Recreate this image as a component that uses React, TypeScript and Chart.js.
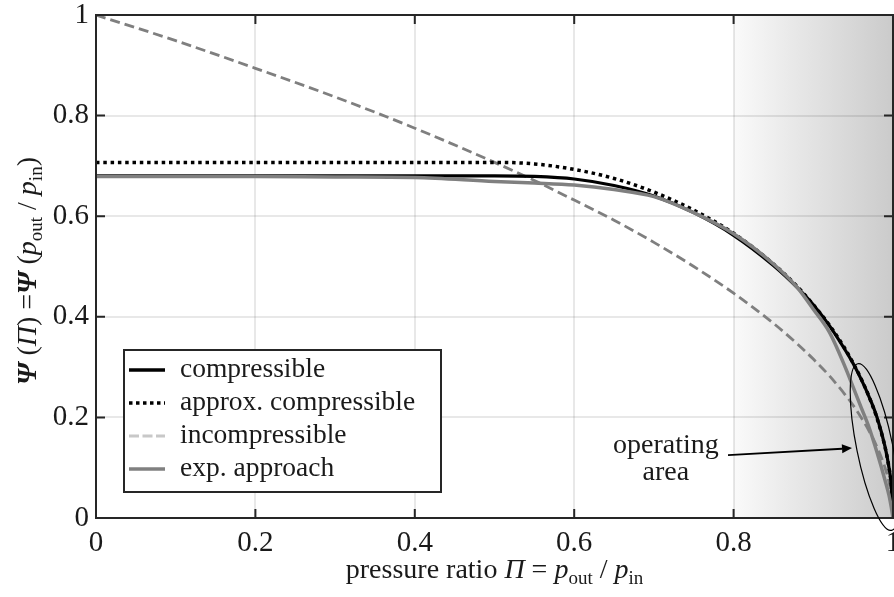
import { useEffect, useRef } from "react";
import { Chart, registerables } from "chart.js";

Chart.register(...registerables);

// ---------- data ----------
const pressureRatio = [0, 0.1, 0.2, 0.3, 0.4, 0.5, 0.55, 0.6, 0.65, 0.7, 0.75, 0.8, 0.85, 0.88, 0.9, 0.92, 0.94, 0.95, 0.96, 0.97, 0.98, 0.99, 0.995, 0.998, 1];
const compressible = [0.68, 0.68, 0.68, 0.68, 0.68, 0.68, 0.679, 0.674, 0.661, 0.64, 0.607, 0.562, 0.502, 0.458, 0.424, 0.383, 0.334, 0.307, 0.276, 0.241, 0.2, 0.142, 0.1, 0.063, 0];
const approxCompressible = [0.707, 0.707, 0.707, 0.707, 0.707, 0.707, 0.704, 0.693, 0.675, 0.648, 0.612, 0.566, 0.505, 0.46, 0.424, 0.384, 0.336, 0.308, 0.277, 0.241, 0.198, 0.141, 0.1, 0.063, 0];
const incompressible = [1, 0.949, 0.894, 0.837, 0.775, 0.707, 0.671, 0.632, 0.592, 0.548, 0.5, 0.447, 0.387, 0.346, 0.316, 0.283, 0.245, 0.224, 0.2, 0.173, 0.141, 0.1, 0.071, 0.045, 0];
const expApproach = [0.679, 0.679, 0.679, 0.678, 0.677, 0.669, 0.666, 0.662, 0.653, 0.639, 0.607, 0.565, 0.505, 0.458, 0.415, 0.37, 0.3, 0.26, 0.22, 0.18, 0.13, 0.075, 0.045, 0.02, 0];

const tickValues = [0, 0.2, 0.4, 0.6, 0.8, 1];
const legendLabels = ["compressible", "approx. compressible", "incompressible", "exp. approach"];
const shadeStart = 0.8;
const shadeEnd = 1;
// annotation (data units)
const ellipseCenter = { x: 0.977, y: 0.141 };
const arrowFrom = { x: 0.793, y: 0.125 };
const arrowTo = { x: 0.9486, y: 0.139 };
const annotationText = ["operating", "area"];
const annotationTextPos = { x: 0.715, y1: 0.129, y2: 0.0755 };

const FONT = "'Liberation Serif', 'Times New Roman', serif";
const TEXT = "#1a1a1a";
const FRAME = "#262626";

const mk = (ys: number[]) => pressureRatio.map((x, i) => ({ x, y: ys[i] }));

type Part = { t: string; style?: string; size?: number; dy?: number };

function richWidth(ctx: CanvasRenderingContext2D, parts: Part[]) {
  let w = 0;
  for (const p of parts) {
    ctx.font = `${p.style ?? ""} ${p.size ?? 28}px ${FONT}`;
    w += ctx.measureText(p.t).width;
  }
  return w;
}
function drawRich(ctx: CanvasRenderingContext2D, parts: Part[], cx: number, y: number) {
  let x = cx - richWidth(ctx, parts) / 2;
  ctx.textAlign = "left";
  ctx.textBaseline = "alphabetic";
  ctx.fillStyle = TEXT;
  for (const p of parts) {
    ctx.font = `${p.style ?? ""} ${p.size ?? 28}px ${FONT}`;
    ctx.fillText(p.t, x, y + (p.dy ?? 0));
    x += ctx.measureText(p.t).width;
  }
}

const xTitle: Part[] = [
  { t: "pressure ratio " },
  { t: "Π", style: "italic" },
  { t: " = " },
  { t: "p", style: "italic" },
  { t: "out", size: 19, dy: 6 },
  { t: " / " },
  { t: "p", style: "italic" },
  { t: "in", size: 19, dy: 6 },
];
const yTitle: Part[] = [
  { t: "Ψ", style: "italic bold" },
  { t: " (" },
  { t: "Π", style: "italic" },
  { t: ") " },
  { t: "=" },
  { t: "Ψ", style: "italic bold" },
  { t: " (" },
  { t: "p", style: "italic" },
  { t: "out", size: 19, dy: 6 },
  { t: " / " },
  { t: "p", style: "italic" },
  { t: "in", size: 19, dy: 6 },
  { t: ")" },
];

const decorPlugin = {
  id: "decor",
  beforeDraw(chart: any) {
    const { ctx, chartArea: a, scales } = chart;
    const x0 = scales.x.getPixelForValue(shadeStart);
    const x1 = scales.x.getPixelForValue(shadeEnd);
    const g = ctx.createLinearGradient(x0, 0, x1, 0);
    g.addColorStop(0, "#fafafa");
    g.addColorStop(1, "#cbcbcb");
    ctx.save();
    ctx.fillStyle = g;
    ctx.fillRect(x0, a.top, x1 - x0, a.bottom - a.top);
    ctx.restore();
  },
  afterDraw(chart: any) {
    const { ctx, chartArea: a, scales } = chart;
    const sx = scales.x, sy = scales.y;
    ctx.save();
    // frame
    ctx.strokeStyle = FRAME;
    ctx.lineWidth = 2;
    ctx.strokeRect(a.left, a.top, a.right - a.left, a.bottom - a.top);
    // inward ticks
    const tl = 9;
    ctx.beginPath();
    for (const v of tickValues) {
      const px = sx.getPixelForValue(v);
      ctx.moveTo(px, a.bottom); ctx.lineTo(px, a.bottom - tl);
      ctx.moveTo(px, a.top); ctx.lineTo(px, a.top + tl);
      const py = sy.getPixelForValue(v);
      ctx.moveTo(a.left, py); ctx.lineTo(a.left + tl, py);
      ctx.moveTo(a.right, py); ctx.lineTo(a.right - tl, py);
    }
    ctx.stroke();

    // annotation: ellipse
    ctx.beginPath();
    ctx.lineWidth = 1.2;
    ctx.strokeStyle = "#000";
    ctx.ellipse(sx.getPixelForValue(ellipseCenter.x), sy.getPixelForValue(ellipseCenter.y), 18, 85, -0.2, 0, Math.PI * 2);
    ctx.stroke();

    // arrow
    const ax0 = sx.getPixelForValue(arrowFrom.x), ay0 = sy.getPixelForValue(arrowFrom.y);
    const ax1 = sx.getPixelForValue(arrowTo.x), ay1 = sy.getPixelForValue(arrowTo.y);
    const ang = Math.atan2(ay1 - ay0, ax1 - ax0);
    const hl = 10, hw = 4.5;
    ctx.strokeStyle = "#000";
    ctx.fillStyle = "#000";
    ctx.lineWidth = 2;
    ctx.beginPath();
    ctx.moveTo(ax0, ay0);
    ctx.lineTo(ax1 - hl * Math.cos(ang), ay1 - hl * Math.sin(ang));
    ctx.stroke();
    ctx.beginPath();
    ctx.moveTo(ax1, ay1);
    ctx.lineTo(ax1 - hl * Math.cos(ang) + hw * Math.sin(ang), ay1 - hl * Math.sin(ang) - hw * Math.cos(ang));
    ctx.lineTo(ax1 - hl * Math.cos(ang) - hw * Math.sin(ang), ay1 - hl * Math.sin(ang) + hw * Math.cos(ang));
    ctx.closePath();
    ctx.fill();
    // annotation text
    ctx.font = `28px ${FONT}`;
    ctx.fillStyle = TEXT;
    ctx.textAlign = "center";
    ctx.textBaseline = "alphabetic";
    const tx = sx.getPixelForValue(annotationTextPos.x);
    ctx.fillText(annotationText[0], tx, sy.getPixelForValue(annotationTextPos.y1));
    ctx.fillText(annotationText[1], tx, sy.getPixelForValue(annotationTextPos.y2));

    // legend
    const lx = 124, ly = 350, lw = 317, lh = 142;
    ctx.fillStyle = "#fff";
    ctx.fillRect(lx, ly, lw, lh);
    ctx.strokeStyle = FRAME;
    ctx.lineWidth = 2;
    ctx.strokeRect(lx, ly, lw, lh);
    const legendStyles = [
      { color: "#000", width: 3.5, dash: [] as number[] },
      { color: "#000", width: 3.5, dash: [3.5, 3.5] },
      { color: "#c8c8c8", width: 3, dash: [10, 3.5] },
      { color: "#808080", width: 3.5, dash: [] as number[] },
    ];
    legendLabels.forEach((lab, i) => {
      const base = 377 + i * 33;
      const st = legendStyles[i];
      ctx.beginPath();
      ctx.setLineDash(st.dash);
      ctx.strokeStyle = st.color;
      ctx.lineWidth = st.width;
      ctx.lineCap = "butt";
      ctx.moveTo(129, base - 7);
      ctx.lineTo(165, base - 7);
      ctx.stroke();
      ctx.setLineDash([]);
      ctx.fillStyle = TEXT;
      ctx.font = `27.5px ${FONT}`;
      ctx.textAlign = "left";
      ctx.fillText(lab, 180, base);
    });

    // axis titles
    drawRich(ctx, xTitle, (a.left + a.right) / 2, 578);
    ctx.translate(36, 271);
    ctx.rotate(-Math.PI / 2);
    drawRich(ctx, yTitle, 0, 0);
    ctx.restore();
  },
};

const fmt = (v: any) => Number(Number(v).toFixed(1)).toString();

export default function App() {
  const ref = useRef<HTMLCanvasElement>(null);
  useEffect(() => {
    const chart = new Chart(ref.current!, {
      type: "line",
      data: {
        datasets: [
          { label: legendLabels[3], data: mk(expApproach), borderColor: "#808080", borderWidth: 3.5, pointRadius: 0, cubicInterpolationMode: "monotone", order: 0 },
          { label: legendLabels[0], data: mk(compressible), borderColor: "#000", borderWidth: 3.2, pointRadius: 0, cubicInterpolationMode: "monotone", order: 1 },
          { label: legendLabels[1], data: mk(approxCompressible), borderColor: "#000", borderWidth: 3.5, borderDash: [3.5, 3.8], pointRadius: 0, cubicInterpolationMode: "monotone", order: 2 },
          { label: legendLabels[2], data: mk(incompressible), borderColor: "#7f7f7f", borderWidth: 2.8, borderDash: [10, 5], pointRadius: 0, cubicInterpolationMode: "monotone", order: 3 },
        ] as any,
      },
      options: {
        animation: false,
        responsive: false,
        events: [],
        layout: { autoPadding: false, padding: { top: 15, right: 1, bottom: 0, left: 0 } } as any,
        plugins: { legend: { display: false }, tooltip: { enabled: false } },
        scales: {
          x: {
            type: "linear", min: 0, max: 1,
            ticks: { stepSize: 0.2, padding: 8, color: TEXT, font: { family: FONT, size: 29 }, callback: fmt, maxRotation: 0, autoSkip: false },
            grid: { color: "rgba(0,0,0,0.09)", lineWidth: 2, drawTicks: false },
            border: { display: false },
            afterFit: (s: any) => { s.height = 79; s.paddingLeft = 0; s.paddingRight = 0; },
          },
          y: {
            type: "linear", min: 0, max: 1,
            ticks: { stepSize: 0.2, padding: 7, color: TEXT, font: { family: FONT, size: 29 }, callback: fmt },
            grid: { color: "rgba(0,0,0,0.09)", lineWidth: 2, drawTicks: false },
            border: { display: false },
            afterFit: (s: any) => { s.width = 96; s.paddingTop = 0; s.paddingBottom = 0; },
          },
        },
      } as any,
      plugins: [decorPlugin],
    });
    return () => chart.destroy();
  }, []);
  return (
    <div style={{ position: "fixed", left: 0, top: 0, width: 894, height: 597, background: "#fff" }}>
      <canvas ref={ref} width={894} height={597} style={{ display: "block", width: 894, height: 597 }} />
    </div>
  );
}
